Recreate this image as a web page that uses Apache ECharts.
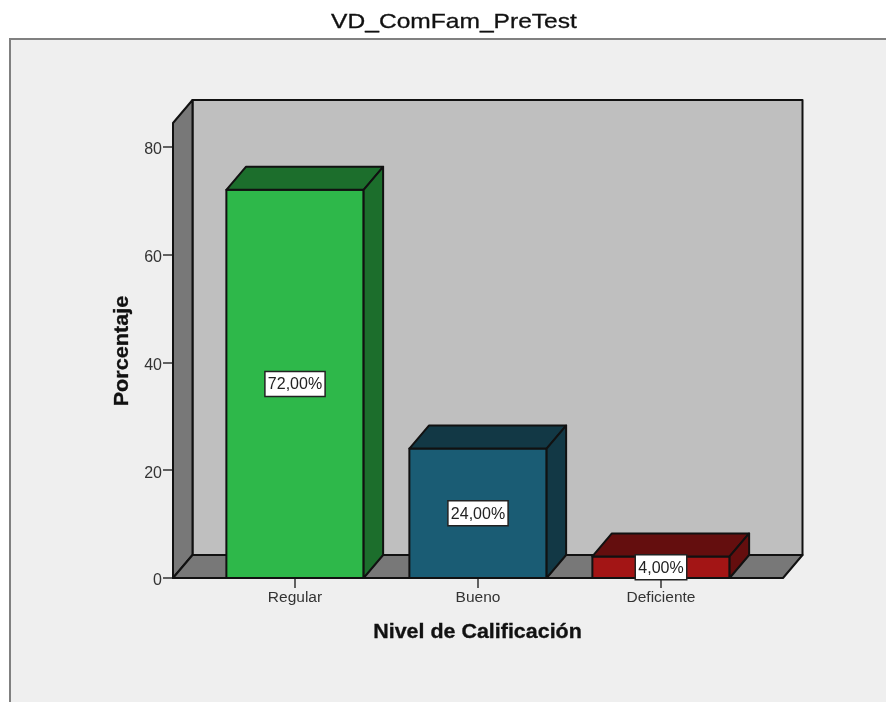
<!DOCTYPE html>
<html>
<head>
<meta charset="utf-8">
<title>VD_ComFam_PreTest</title>
<script src="https://cdn.jsdelivr.net/npm/echarts@6/dist/echarts.min.js"></script>
<style>
	html, body { margin: 0; padding: 0; background: #fff; }
	#main { width: 886px; height: 702px; }
</style>
</head>
<body>
<div id="main"></div>
<script>
var chartTitle = 'VD_ComFam_PreTest';
var xName = 'Nivel de Calificación';
var yName = 'Porcentaje';
var categories = ['Regular', 'Bueno', 'Deficiente'];
var percentages = [72, 24, 4];
var percentLabels = ['72,00%', '24,00%', '4,00%'];
var yTicks = [0, 20, 40, 60, 80];
var yMax = 84.4;

var frontColors = ['#2eb84a', '#1a5c74', '#a31515'];
var darkColors = ['#1c6e2c', '#123845', '#640e0e'];
var edgeColor = '#111';
var depthX = 19.5;
var depthY = 23;
var fontName = '"Liberation Sans", Arial, sans-serif';

var myChart = echarts.init(document.getElementById('main'));

function poly(points, fill) {
	return {
		type: 'polygon',
		shape: { points: points },
		style: { fill: fill, stroke: edgeColor, lineWidth: 2, lineJoin: 'round' }
	};
}

//the original text is spaced wider than the font, so stretch it a little
function wideText(text, x, y, font, stretch, rotation) {
	return {
		type: 'text',
		z: 5,
		x: x,
		y: y,
		scaleX: stretch,
		rotation: rotation || 0,
		style: { text: text, x: 0, y: 0, font: font + ' ' + fontName, fill: '#111', stroke: '#111', lineWidth: 0.3, align: 'center', verticalAlign: 'middle' }
	};
}

//back wall, side wall and floor
function renderWalls(params, api) {
	var band = api.size([1, 0])[0];
	var left = api.coord([0, 0])[0] - band / 2 - band / 6;
	var right = api.coord([categories.length - 1, 0])[0] + band / 2 + band / 6;
	var bottom = api.coord([0, 0])[1];
	var top = api.coord([0, yMax])[1];
	return {
		type: 'group',
		children: [
			poly([[left + depthX, top - depthY], [right + depthX, top - depthY], [right + depthX, bottom - depthY], [left + depthX, bottom - depthY]], '#bfbfbf'),
			poly([[left, top], [left + depthX, top - depthY], [left + depthX, bottom - depthY], [left, bottom]], '#787878'),
			poly([[left, bottom], [left + depthX, bottom - depthY], [right + depthX, bottom - depthY], [right, bottom]], '#787878')
		]
	};
}

function renderBar(params, api) {
	var i = params.dataIndex;
	var value = api.value(1);
	var width = api.size([1, 0])[0] * 0.75;
	var center = api.coord([i, 0])[0];
	var bottom = api.coord([i, 0])[1];
	var top = api.coord([i, value])[1];
	var mid = api.coord([i, value / 2])[1];
	var l = center - width / 2;
	var r = center + width / 2;
	var boxW = percentLabels[i].length * 8.7 + 8;
	return {
		type: 'group',
		children: [
			poly([[l, bottom], [l, top], [r, top], [r, bottom]], frontColors[i]),
			poly([[l, top], [l + depthX, top - depthY], [r + depthX, top - depthY], [r, top]], darkColors[i]),
			poly([[r, bottom], [r, top], [r + depthX, top - depthY], [r + depthX, bottom - depthY]], darkColors[i]),
			{
				type: 'rect',
				shape: { x: center - boxW / 2, y: mid - 12.5, width: boxW, height: 25 },
				style: { fill: '#fff', stroke: '#222', lineWidth: 1.5 }
			},
			{
				type: 'text',
				style: {
					x: center, y: mid + 1, text: percentLabels[i], fill: '#222',
					font: '16px ' + fontName, align: 'center', verticalAlign: 'middle'
				}
			}
		]
	};
}

var option = {
	animation: false,
	backgroundColor: '#fff',
	graphic: [{
		type: 'rect',
		z: -1,
		shape: { x: 10, y: 39, width: 900, height: 700 },
		style: { fill: '#efefef', stroke: '#808080', lineWidth: 2 }
	},
	wideText(chartTitle, 454, 22, '21px', 1.17),
	wideText(xName, 477.5, 633, 'bold 19.5px', 1.1),
	wideText(yName, 123, 351, 'bold 19.5px', 1.11, Math.PI / 2)],
	grid: { left: 203.5, right: 133.5, top: 123, bottom: 124 },
	xAxis: {
		type: 'category',
		data: categories,
		axisLine: { show: false },
		axisTick: { show: true, alignWithLabel: true, length: 10, lineStyle: { color: '#333', width: 1.5 } },
		axisLabel: { margin: 12, fontFamily: fontName, fontSize: 15.5, color: '#333' }
	},
	yAxis: {
		type: 'value',
		min: 0,
		max: yMax,
		offset: 30.5,
		splitLine: { show: false },
		axisLine: { show: false },
		axisTick: { show: true, length: 10, customValues: yTicks, lineStyle: { color: '#333', width: 1.5 } },
		axisLabel: { margin: 11, verticalAlign: 'top', lineHeight: 6, customValues: yTicks, fontFamily: fontName, fontSize: 16, color: '#333' }
	},
	series: [{
		type: 'custom',
		name: 'walls',
		z: 1,
		silent: true,
		renderItem: renderWalls,
		data: [[0, 0]]
	}, {
		type: 'custom',
		name: 'Porcentaje',
		z: 3,
		renderItem: renderBar,
		encode: { x: 0, y: 1 },
		data: percentages.map(function (v, i) { return [i, v]; })
	}]
};

myChart.setOption(option);
</script>
</body>
</html>
